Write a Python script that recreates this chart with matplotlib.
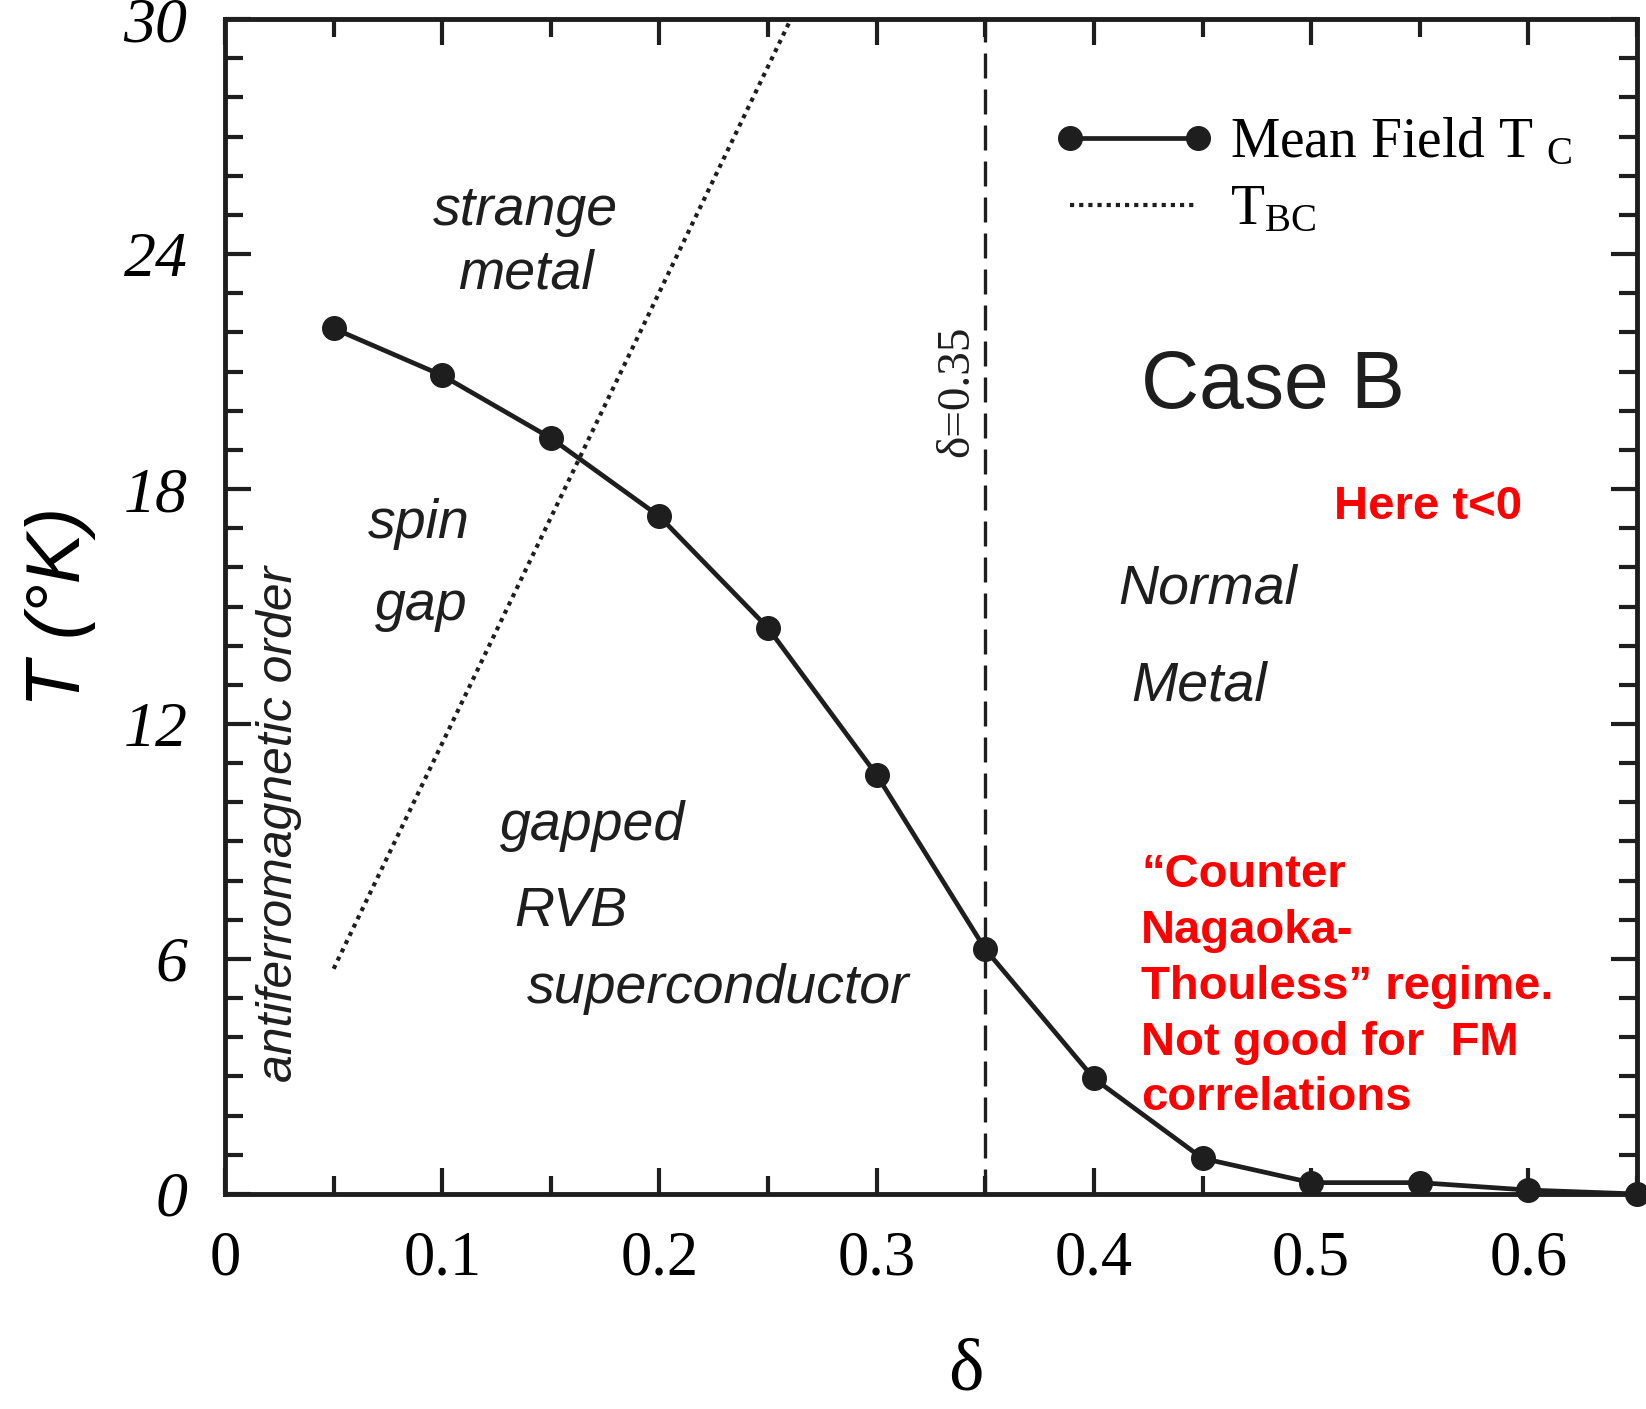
import matplotlib
matplotlib.use("Agg")
import matplotlib.pyplot as plt
from matplotlib.ticker import MultipleLocator, FuncFormatter

# Mean-field transition temperature versus doping
delta = [0.05, 0.10, 0.15, 0.20, 0.25, 0.30, 0.35, 0.40, 0.45, 0.50, 0.55, 0.60, 0.65]
tc_mf = [22.1, 20.9, 19.3, 17.3, 14.45, 10.7, 6.25, 2.95, 0.91, 0.29, 0.29, 0.10, 0.0]

# Bose condensation temperature (straight line, clipped by the top of the frame)
tbc_delta = [0.05, 0.2605]
tbc_T = [5.75, 30.0]

# Doping of the dashed boundary
delta_c = 0.35

xticks = [0, 0.1, 0.2, 0.3, 0.4, 0.5, 0.6]
yticks = [0, 6, 12, 18, 24, 30]

plt.rcParams["mathtext.fontset"] = "custom"
plt.rcParams["mathtext.rm"] = "Liberation Serif"
plt.rcParams["mathtext.it"] = "Liberation Serif:italic"

SERIF = "Liberation Serif"
SANS = "Liberation Sans"
INK = "#1e1e1e"

fig = plt.figure(figsize=(16.46, 14.09), dpi=100)
ax = fig.add_axes([0.1367, 0.1526, 0.8578, 0.8339])

ax.plot(delta, tc_mf, color=INK, lw=3.4, marker="o", ms=17,
        clip_on=False, zorder=4, label=r"Mean Field T $_{\mathrm{C}}$")
ax.plot(tbc_delta, tbc_T, color=INK, lw=3.0, linestyle=(0, (1, 1.2)),
        zorder=3, label=r"T$_{\mathrm{BC}}$")
ax.axvline(delta_c, color=INK, lw=2.4, dashes=(7.5, 3.3), zorder=2)

ax.set_xlim(0, 0.65)
ax.set_ylim(0, 30)

ax.xaxis.set_major_locator(MultipleLocator(0.1))
ax.xaxis.set_minor_locator(MultipleLocator(0.05))
ax.yaxis.set_major_locator(MultipleLocator(6))
ax.yaxis.set_minor_locator(MultipleLocator(1))
ax.set_xticks(xticks)
ax.set_yticks(yticks)
ax.xaxis.set_major_formatter(FuncFormatter(lambda v, p: "%g" % v))

for s in ax.spines.values():
    s.set_linewidth(3.5)
    s.set_color(INK)

ax.tick_params(which="both", direction="in", top=True, right=True,
               width=3, color=INK)
ax.tick_params(which="major", length=19)
ax.tick_params(which="minor", length=13)
ax.tick_params(axis="x", which="major", pad=26)
ax.tick_params(axis="y", which="major", pad=27)

for lab in ax.get_xticklabels():
    lab.set_fontfamily(SERIF)
    lab.set_fontsize(45)
for lab in ax.get_yticklabels():
    lab.set_fontfamily(SERIF)
    lab.set_fontstyle("italic")
    lab.set_fontsize(46)

ax.set_xlabel("δ", fontfamily=SERIF, fontsize=54, labelpad=36)
ax.xaxis.label.set_x(0.525)
ax.set_ylabel("T (°K)", fontfamily=SANS, fontstyle="italic", fontsize=55, labelpad=20)

# Region labels
italic = dict(fontfamily=SANS, fontstyle="italic", fontsize=40,
              color=INK, ha="center", va="baseline")
ax.text(0.1385, 24.75, "strange", **italic)
ax.text(0.1385, 23.11, "metal", **italic)
ax.text(0.0891, 16.76, "spin", **italic)
ax.text(0.0901, 14.66, "gap", **italic)
ax.text(0.169, 9.04, "gapped", **italic)
ax.text(0.1593, 6.84, "RVB", **italic)
ax.text(0.2271, 4.88, "superconductor", **italic)
ax.text(0.4523, 15.07, "Normal", **italic)
ax.text(0.4484, 12.6, "Metal", **italic)
ax.text(0.0247, 9.44, "antiferromagnetic order", fontfamily=SANS,
        fontstyle="italic", fontsize=36, color=INK,
        rotation=90, ha="center", va="center")

ax.text(0.337, 20.5, "δ=0.35", fontfamily=SERIF, fontsize=34,
        color=INK, rotation=90, ha="center", va="center")
ax.text(0.4823, 20.08, "Case B", fontfamily=SANS, fontsize=58,
        color=INK, ha="center", va="baseline")

red = dict(fontfamily=SANS, fontweight="bold", fontsize=34, color="#ff0000")
ax.text(0.5104, 17.24, "Here t<0", ha="left", va="baseline", **red)
ax.text(0.4218, 8.71,
        "\u201cCounter\nNagaoka-\nThouless\u201d regime.\nNot good for  FM\ncorrelations",
        ha="left", va="top", linespacing=1.35, **red)

leg = ax.legend(loc="upper left", bbox_to_anchor=(0.587, 0.9165), frameon=False,
                numpoints=2, borderpad=0, borderaxespad=0, handlelength=2.9,
                handletextpad=0.27, labelspacing=0.28,
                prop={"family": SERIF, "size": 40})

fig.savefig("out.png", dpi=100, facecolor="white")
